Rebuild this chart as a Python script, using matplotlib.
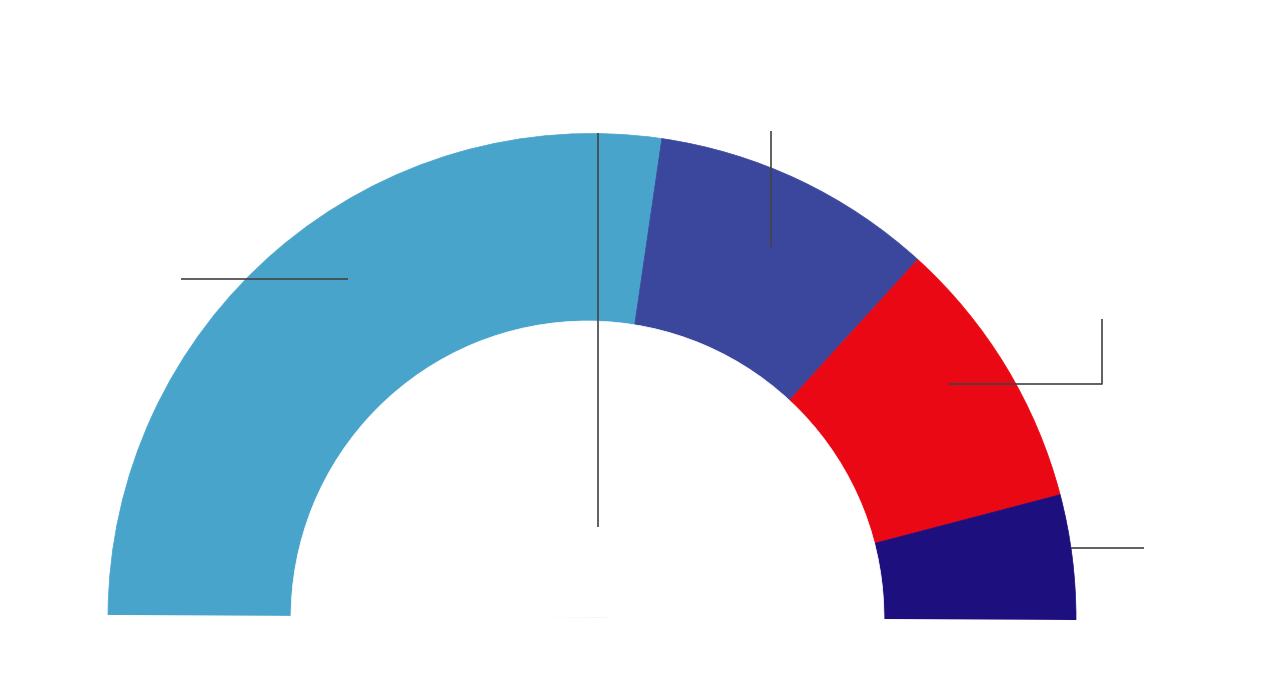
import matplotlib
matplotlib.use("Agg")
import matplotlib.pyplot as plt
from matplotlib.patches import Wedge

# Data
parties = ["A", "B", "C", "D"]
seats = [98, 34, 33, 15]
colors = ["#48A4CB", "#3A479D", "#EA0814", "#1D0F7E"]

W, H = 1280, 696
fig = plt.figure(figsize=(W / 100, H / 100), dpi=100)
ax = fig.add_axes([0, 0, 1, 1])
ax.set_xlim(0, W)
ax.set_ylim(0, H)
ax.set_aspect("equal")
ax.axis("off")

cx, cy = 592, H - 617.5
r_out = 484
icx, icy, r_in = 587.5, H - 617.5, 296.5
tilt = -0.3
total = sum(seats)
start = 180 + tilt
for v, c in zip(seats, colors):
    span = 180 * v / total
    ax.add_patch(Wedge((cx, cy), r_out, start - span, start,
                       facecolor=c, edgecolor=c, linewidth=0.5))
    start -= span
# hollow centre
ax.add_patch(Wedge((icx, icy), r_in, tilt - 1, 180 + tilt + 1,
                   facecolor="white", edgecolor="white", linewidth=0.5))
# cover anything below the baseline
ax.add_patch(Wedge((cx, cy), r_out + 5, 180 + tilt, 360 + tilt,
                   facecolor="white", edgecolor="none"))

lc = "#444444"
lw = 1.2
def line(xs, ys):
    ax.plot(xs, [H - y for y in ys], color=lc, linewidth=lw, solid_capstyle="butt")

line([598, 598], [133, 527])
line([181, 348], [279, 279])
line([771, 771], [131, 247])
line([948, 1102, 1102], [384, 384, 319])
line([1071, 1144], [548, 548])

fig.savefig("out.png", dpi=100)
